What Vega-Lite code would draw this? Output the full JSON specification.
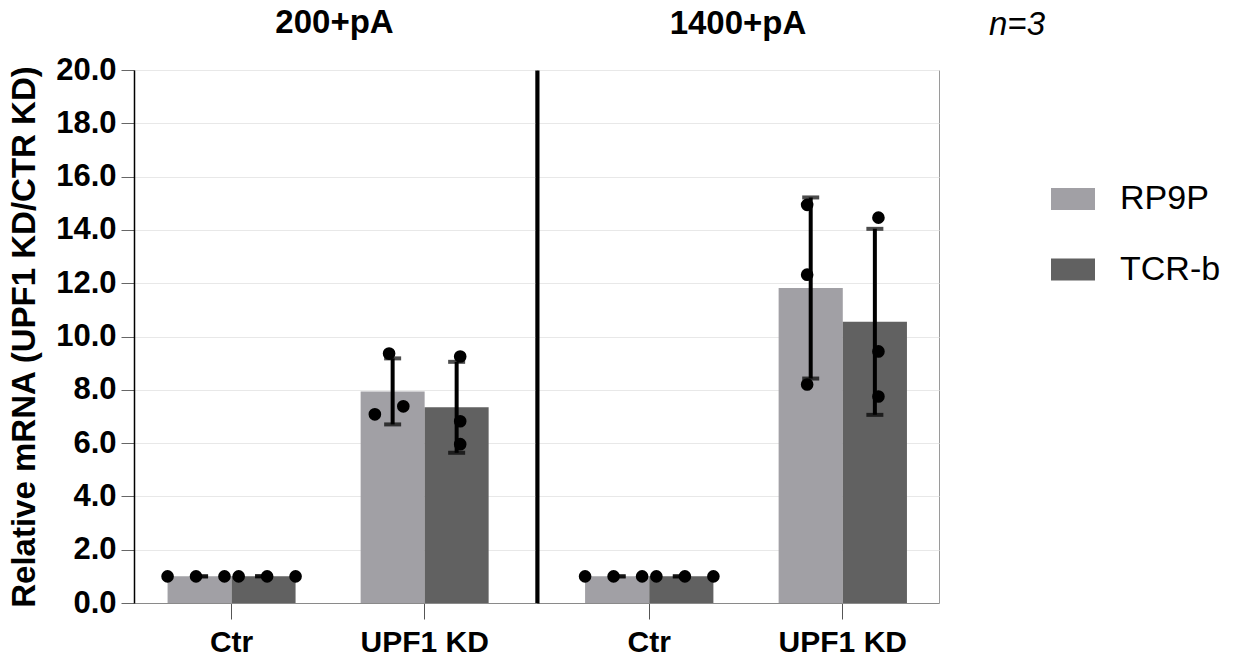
{
  "$schema": "https://vega.github.io/schema/vega-lite/v6.json",
  "padding": {"left": 8, "top": 6, "right": 5, "bottom": 5},
  "background": "white",
  "config": {
    "font": "Liberation Sans",
    "view": {"stroke": "#9a9a9a", "strokeWidth": 1},
    "title": {"fontSize": 33, "fontWeight": "bold", "color": "black"},
    "axisX": {"title": null, "labelAngle": 0, "labelFontSize": 30, "labelFontWeight": "bold", "labelColor": "black", "tickSize": 16, "tickColor": "#555555", "domainColor": "#8a8a8a", "labelPadding": 8, "grid": false},
    "axisY": {"gridColor": "#e8e8e8", "gridWidth": 1}
  },
  "datasets": {
    "d": [
      {"panel": "200+pA", "cond": "Ctr", "series": "RP9P", "value": 1.0, "lane": "l"},
      {"panel": "200+pA", "cond": "Ctr", "series": "RP9P", "value": 1.0, "lane": "c"},
      {"panel": "200+pA", "cond": "Ctr", "series": "RP9P", "value": 1.0, "lane": "r"},
      {"panel": "200+pA", "cond": "Ctr", "series": "TCR-b", "value": 1.0, "lane": "l"},
      {"panel": "200+pA", "cond": "Ctr", "series": "TCR-b", "value": 1.0, "lane": "c"},
      {"panel": "200+pA", "cond": "Ctr", "series": "TCR-b", "value": 1.0, "lane": "r"},
      {"panel": "200+pA", "cond": "UPF1 KD", "series": "RP9P", "value": 9.36, "lane": "c"},
      {"panel": "200+pA", "cond": "UPF1 KD", "series": "RP9P", "value": 7.08, "lane": "nl"},
      {"panel": "200+pA", "cond": "UPF1 KD", "series": "RP9P", "value": 7.38, "lane": "nr"},
      {"panel": "200+pA", "cond": "UPF1 KD", "series": "TCR-b", "value": 9.25, "lane": "c"},
      {"panel": "200+pA", "cond": "UPF1 KD", "series": "TCR-b", "value": 6.82, "lane": "c"},
      {"panel": "200+pA", "cond": "UPF1 KD", "series": "TCR-b", "value": 5.96, "lane": "c"},
      {"panel": "1400+pA", "cond": "Ctr", "series": "RP9P", "value": 1.0, "lane": "l"},
      {"panel": "1400+pA", "cond": "Ctr", "series": "RP9P", "value": 1.0, "lane": "c"},
      {"panel": "1400+pA", "cond": "Ctr", "series": "RP9P", "value": 1.0, "lane": "r"},
      {"panel": "1400+pA", "cond": "Ctr", "series": "TCR-b", "value": 1.0, "lane": "l"},
      {"panel": "1400+pA", "cond": "Ctr", "series": "TCR-b", "value": 1.0, "lane": "c"},
      {"panel": "1400+pA", "cond": "Ctr", "series": "TCR-b", "value": 1.0, "lane": "r"},
      {"panel": "1400+pA", "cond": "UPF1 KD", "series": "RP9P", "value": 14.94, "lane": "c"},
      {"panel": "1400+pA", "cond": "UPF1 KD", "series": "RP9P", "value": 12.32, "lane": "c"},
      {"panel": "1400+pA", "cond": "UPF1 KD", "series": "RP9P", "value": 8.2, "lane": "c"},
      {"panel": "1400+pA", "cond": "UPF1 KD", "series": "TCR-b", "value": 14.46, "lane": "c"},
      {"panel": "1400+pA", "cond": "UPF1 KD", "series": "TCR-b", "value": 9.44, "lane": "c"},
      {"panel": "1400+pA", "cond": "UPF1 KD", "series": "TCR-b", "value": 7.75, "lane": "c"}
    ]
  },
  "title": {"text": "n=3", "anchor": "end", "frame": "bounds", "fontSize": 33, "fontStyle": "italic", "fontWeight": "normal", "dx": -176, "offset": -35},
  "spacing": 0,
  "resolve": {"scale": {"color": "shared"}, "legend": {"color": "shared"}},
  "hconcat": [
    {
      "width": 401, "height": 533,
      "title": {"text": "200+pA", "offset": 14},
      "data": {"name": "d"},
      "transform": [
        {"filter": "datum.panel === '200+pA'"},
        {"calculate": "datum.series + '-' + datum.lane", "as": "slot"}
      ],
      "encoding": {
        "x": {"field": "cond", "type": "nominal", "sort": ["Ctr", "UPF1 KD"], "scale": {"paddingInner": 0.337, "paddingOuter": 0.207, "align": 0.42}}
      },
      "layer": [
        {
          "mark": {"type": "bar"},
          "encoding": {
            "y": {"aggregate": "mean", "field": "value", "type": "quantitative", "title": "Relative mRNA (UPF1 KD/CTR KD)", "scale": {"domain": [0, 20], "nice": false},
              "axis": {"titleFontSize": 33, "titleFontWeight": "bold", "titleColor": "black", "titlePadding": 14,
                "labelFontSize": 31, "labelFontWeight": "bold", "labelColor": "black", "format": ".1f", "values": [0, 2, 4, 6, 8, 10, 12, 14, 16, 18, 20],
                "domainColor": "black", "domainWidth": 1.5, "tickColor": "#666666", "tickSize": 13, "labelPadding": 5, "grid": true}},
            "xOffset": {"field": "series", "type": "nominal", "scale": {"paddingInner": 0, "paddingOuter": 0}},
            "color": {"field": "series", "type": "nominal", "scale": {"domain": ["RP9P", "TCR-b"], "range": ["#a1a0a5", "#616161"]},
              "legend": {"title": null, "orient": "none", "legendX": 917, "legendY": 107, "padding": 0, "symbolType": "M-1,-0.5H1V0.5H-1Z", "symbolSize": 1936, "symbolStrokeWidth": 0, "labelFontSize": 34, "labelColor": "black", "rowPadding": 31.5, "labelOffset": 25}}
          }
        },
        {
          "mark": {"type": "errorbar", "extent": "stdev", "ticks": {"size": 17, "thickness": 4, "color": "black"}, "rule": {"strokeWidth": 4, "color": "black"}},
          "encoding": {
            "y": {"field": "value", "type": "quantitative", "title": "Relative mRNA (UPF1 KD/CTR KD)"},
            "xOffset": {"field": "series", "type": "nominal", "scale": {"paddingInner": 0, "paddingOuter": 0}}
          }
        },
        {
          "mark": {"type": "point", "filled": true, "color": "black", "size": 160, "opacity": 1},
          "encoding": {
            "y": {"field": "value", "type": "quantitative", "title": "Relative mRNA (UPF1 KD/CTR KD)"},
            "xOffset": {"field": "slot", "type": "nominal", "scale": {"domain": ["RP9P-l", "RP9P-nl", "RP9P-c", "RP9P-nr", "RP9P-r", "TCR-b-l", "TCR-b-nl", "TCR-b-c", "TCR-b-nr", "TCR-b-r"], "paddingInner": 0, "paddingOuter": 0}}
          }
        }
      ],
      "resolve": {"scale": {"xOffset": "independent"}}
    },
    {
      "width": 402, "height": 533,
      "title": {"text": "1400+pA", "offset": 29},
      "data": {"name": "d"},
      "transform": [
        {"filter": "datum.panel === '1400+pA'"},
        {"calculate": "datum.series + '-' + datum.lane", "as": "slot"}
      ],
      "encoding": {
        "x": {"field": "cond", "type": "nominal", "sort": ["Ctr", "UPF1 KD"], "scale": {"paddingInner": 0.337, "paddingOuter": 0.207, "align": 0.6}}
      },
      "layer": [
        {
          "mark": {"type": "bar"},
          "encoding": {
            "y": {"aggregate": "mean", "field": "value", "type": "quantitative", "title": null, "scale": {"domain": [0, 20], "nice": false},
              "axis": {"title": null, "labels": false, "ticks": false, "domainColor": "black", "domainWidth": 4, "values": [0, 2, 4, 6, 8, 10, 12, 14, 16, 18, 20], "grid": true}},
            "xOffset": {"field": "series", "type": "nominal", "scale": {"paddingInner": 0, "paddingOuter": 0}},
            "color": {"field": "series", "type": "nominal", "scale": {"domain": ["RP9P", "TCR-b"], "range": ["#a1a0a5", "#616161"]}}
          }
        },
        {
          "mark": {"type": "errorbar", "extent": "stdev", "ticks": {"size": 17, "thickness": 4, "color": "black"}, "rule": {"strokeWidth": 4, "color": "black"}},
          "encoding": {
            "y": {"field": "value", "type": "quantitative", "title": null},
            "xOffset": {"field": "series", "type": "nominal", "scale": {"paddingInner": 0, "paddingOuter": 0}}
          }
        },
        {
          "mark": {"type": "point", "filled": true, "color": "black", "size": 160, "opacity": 1},
          "encoding": {
            "y": {"field": "value", "type": "quantitative", "title": null},
            "xOffset": {"field": "slot", "type": "nominal", "scale": {"domain": ["RP9P-l", "RP9P-nl", "RP9P-c", "RP9P-nr", "RP9P-r", "TCR-b-l", "TCR-b-nl", "TCR-b-c", "TCR-b-nr", "TCR-b-r"], "paddingInner": 0, "paddingOuter": 0}}
          }
        }
      ],
      "resolve": {"scale": {"xOffset": "independent"}}
    }
  ]
}
